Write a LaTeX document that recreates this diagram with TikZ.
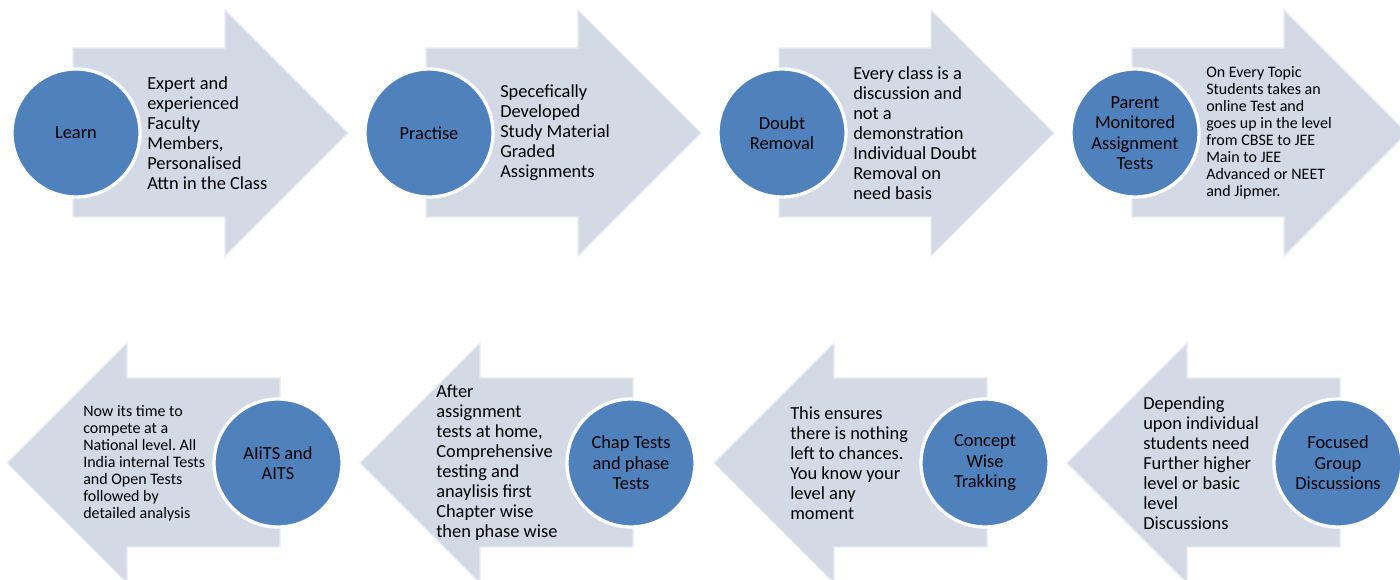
\documentclass[tikz,border=0pt]{standalone}
\usepackage{fontspec}
\setmainfont{Carlito}
\usepackage{tikz}
\usepackage{xcolor}
\frenchspacing

\definecolor{arrowfill}{HTML}{D3DAE6}
\definecolor{stageblue}{HTML}{4F81BD}

\tikzset{
  bigarrow/.style={fill=arrowfill, draw=arrowfill!50!white, line width=1pt},
  stage/.style={circle, fill=stageblue, draw=white, line width=2.5pt,
    minimum size=96pt, inner sep=0pt, align=center,
    font=\fontsize{13.8}{15.4}\selectfont},
  note/.style={anchor=west, inner sep=0pt, align=left,
    font=\fontsize{13.8}{15}\selectfont},
  smallnote/.style={anchor=west, inner sep=0pt, align=left,
    font=\fontsize{12}{12.8}\selectfont}
}

\begin{document}
\begin{tikzpicture}[x=0.75pt,y=-0.75pt]
                \useasboundingbox (0,0) rectangle (1400,580);
                \clip (0,0) rectangle (1400,580);

                % top row, arrows pointing right
                \draw[bigarrow] (73,48) -- (225,48) -- (225,10) -- (348,133) -- (225,256) -- (225,217) -- (73,217) -- cycle;
                \draw[bigarrow] (426,48) -- (578,48) -- (578,10) -- (701,133) -- (578,256) -- (578,217) -- (426,217) -- cycle;
                \draw[bigarrow] (779,48) -- (931,48) -- (931,10) -- (1054,133) -- (931,256) -- (931,217) -- (779,217) -- cycle;
                \draw[bigarrow] (1132,48) -- (1284,48) -- (1284,10) -- (1407,133) -- (1284,256) -- (1284,217) -- (1132,217) -- cycle;

                % bottom row, arrows pointing left
                \draw[bigarrow] (280,378) -- (127,378) -- (127,343) -- (7,463) -- (127,583) -- (127,547) -- (280,547) -- cycle;
                \draw[bigarrow] (633,378) -- (480,378) -- (480,343) -- (360,463) -- (480,583) -- (480,547) -- (633,547) -- cycle;
                \draw[bigarrow] (987,378) -- (834,378) -- (834,343) -- (714,463) -- (834,583) -- (834,547) -- (987,547) -- cycle;
                \draw[bigarrow] (1340,378) -- (1187,378) -- (1187,343) -- (1067,463) -- (1187,583) -- (1187,547) -- (1340,547) -- cycle;

                % circles
                \node[stage] (learn) at (76,133) {Learn};
                \node[stage] (practise) at (429,133) {Practise};
                \node[stage] (doubt) at (782,133) {Doubt\\Removal};
                \node[stage] (parent) at (1135,133) {Parent\\Monitored\\Assignment\\Tests};
                \node[stage] (aits) at (278,463) {AIiTS and\\AITS};
                \node[stage] (chap) at (631,463) {Chap Tests\\and phase\\Tests};
                \node[stage] (concept) at (985,463) {Concept\\Wise\\Trakking};
                \node[stage] (focused) at (1338,463) {Focused\\Group\\Discussions};

                % texts inside the arrows
                \node[note] (learntext) at (147,133) {Expert and\\experienced\\Faculty\\Members,\\Personalised\\Attn in the Class};
                \node[note] (practisetext) at (500,133) {Specefically\\Developed\\Study Material\\Graded\\Assignments};
                \node[note] (doubttext) at (853,133) {Every class is a\\discussion and\\not a\\demonstration\\Individual Doubt\\Removal on\\need basis};
                \node[smallnote] (parenttext) at (1206,133) {On Every Topic\\Students takes an\\online Test and\\goes up in the level\\from CBSE to JEE\\Main to JEE\\Advanced or NEET\\and Jipmer.};
                \node[smallnote] (aitstext) at (83,463) {Now its time to\\compete at a\\National level. All\\India internal Tests\\and Open Tests\\followed by\\detailed analysis};
                \node[note] (chaptext) at (436,463) {After\\assignment\\tests at home,\\Comprehensive\\testing and\\anaylisis first\\Chapter wise\\then phase wise};
                \node[note] (concepttext) at (790,463) {This ensures\\there is nothing\\left to chances.\\You know your\\level any\\moment};
                \node[note] (focusedtext) at (1143,463) {Depending\\upon individual\\students need\\Further higher\\level or basic\\level\\Discussions};
            \end{tikzpicture}
\end{document}
